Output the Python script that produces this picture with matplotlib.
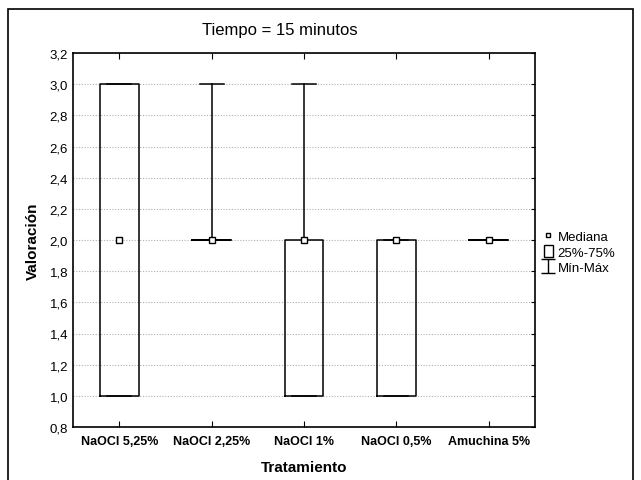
import matplotlib
matplotlib.use("Agg")
import matplotlib.pyplot as plt
from matplotlib.lines import Line2D
from matplotlib.patches import Patch, Rectangle
from matplotlib.path import Path
from matplotlib.ticker import FuncFormatter

plt.rcParams["font.family"] = ["Liberation Sans", "DejaVu Sans"]

# Data (valoracion per tratamiento)
categories = ["NaOCl 5,25%", "NaOCl 2,25%", "NaOCl 1%", "NaOCl 0,5%", "Amuchina 5%"]
medians = [2.0, 2.0, 2.0, 2.0, 2.0]
q1 = [1.0, 2.0, 1.0, 1.0, 2.0]
q3 = [3.0, 2.0, 2.0, 2.0, 2.0]
mins = [1.0, 2.0, 1.0, 1.0, 2.0]
maxs = [3.0, 3.0, 3.0, 2.0, 2.0]

y_ticks = [0.8, 1.0, 1.2, 1.4, 1.6, 1.8, 2.0, 2.2, 2.4, 2.6, 2.8, 3.0, 3.2]
legend_labels = ["Mediana", "25%-75%", "Mín-Máx"]

fig = plt.figure(figsize=(6.41, 4.81), dpi=100)
ax = fig.add_axes([73 / 641, 1 - 428 / 481, (535 - 73) / 641, (428 - 54) / 481])

# outer frame round the whole graph
fig.patches.append(Rectangle((8 / 641, -0.05), (633 - 8) / 641, 1.05 - 10 / 481,
                             transform=fig.transFigure, fill=False,
                             edgecolor="black", linewidth=1.2))

stats = []
for i in range(len(categories)):
    stats.append({"med": medians[i], "q1": q1[i], "q3": q3[i],
                  "whislo": mins[i], "whishi": maxs[i], "fliers": []})

pos = list(range(len(categories)))
ax.bxp(stats, positions=pos, widths=0.42, showfliers=False,
       boxprops=dict(color="black", linewidth=1.1),
       whiskerprops=dict(color="black", linewidth=1.1),
       capprops=dict(color="black", linewidth=1.1),
       medianprops=dict(linewidth=0),
       capwidths=0.26, zorder=3)
ax.plot(pos, medians, linestyle="none", marker="s", markersize=4.5,
        markerfacecolor="white", markeredgecolor="black",
        markeredgewidth=1.0, zorder=4)

ax.set_xlim(-0.5, len(categories) - 0.5)
ax.set_ylim(0.8, 3.2)
ax.set_yticks(y_ticks)
ax.yaxis.set_major_formatter(FuncFormatter(lambda v, p: f"{v:.1f}".replace(".", ",")))
ax.set_xticks(pos)
ax.set_xticklabels(categories, fontsize=9, fontweight="bold")
ax.tick_params(axis="y", labelsize=9.5, direction="in", left=False, right=True, length=3)
ax.tick_params(axis="x", direction="in", top=True, length=4, pad=6)
ax.yaxis.grid(True, color="#b0b0b0", linestyle=(0, (1, 1.5)), linewidth=0.8)
ax.set_axisbelow(True)
for s in ax.spines.values():
    s.set_linewidth(1.2)

ax.set_xlabel("Tratamiento", fontsize=11, fontweight="bold", labelpad=9)
ax.set_ylabel("Valoración", fontsize=11, fontweight="bold", labelpad=7)
fig.text(280 / 641, 1 - 30 / 481, "Tiempo = 15 minutos", fontsize=12,
         ha="center", va="center")

# legend symbols: small square, box, I-shaped whisker
whisker_path = Path([(-0.5, 0.5), (0.5, 0.5), (0, 0.5), (0, -0.5), (-0.5, -0.5), (0.5, -0.5)],
                    [Path.MOVETO, Path.LINETO, Path.MOVETO, Path.LINETO,
                     Path.MOVETO, Path.LINETO])
handles = [
    Line2D([], [], linestyle="none", marker="s", markersize=3.5,
           markerfacecolor="white", markeredgecolor="black"),
    Patch(facecolor="white", edgecolor="black", linewidth=1.0),
    Line2D([], [], linestyle="none", marker=whisker_path, markersize=9.5,
           markeredgecolor="black", markeredgewidth=1.0),
]
fig.legend(handles, legend_labels, loc="center left",
           bbox_to_anchor=(537 / 641, 1 - 253 / 481), frameon=False,
           fontsize=9.5, handlelength=0.7, handleheight=1.0,
           handletextpad=0.35, labelspacing=0.17, borderpad=0)

fig.savefig("out.png", dpi=100)
